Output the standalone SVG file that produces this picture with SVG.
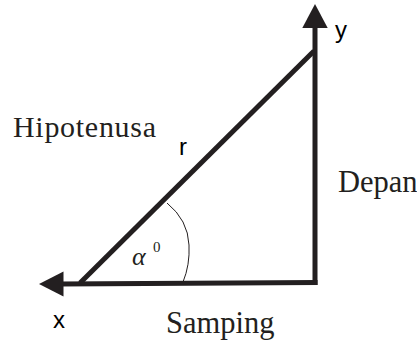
<svg xmlns="http://www.w3.org/2000/svg" width="417" height="347" viewBox="0 0 417 347">
<style>
.ln{stroke:#231f20;stroke-width:5;fill:none;stroke-linecap:butt}
.arc{stroke:#231f20;stroke-width:1;fill:none}
.ah{fill:#231f20}
.serif{font-family:"Liberation Serif","Times New Roman",serif;fill:#231f20}
.sans{font-family:"Liberation Sans",Arial,sans-serif;fill:#000}
</style>
<rect width="417" height="347" fill="#fff"/>
<g id="connectors">
<line class="ln" x1="315" y1="26" x2="315" y2="285"/>
<line class="ln" x1="60" y1="284" x2="317.5" y2="282.5"/>
<line class="ln" x1="80" y1="283" x2="314" y2="51"/>
<path class="arc" d="M167,203 Q188,220 189,245 Q190,265 183,282"/>
<polygon class="ah" points="315,4 327.7,28 302.3,28"/>
<polygon class="ah" points="39,284 63.5,271.5 63.5,296.5"/>
</g>
<g id="label-y"><text class="sans" x="335" y="38" font-size="24">y</text></g>
<g id="label-x"><text class="sans" x="53" y="328" font-size="24">x</text></g>
<g id="label-r"><text class="sans" x="179" y="155" font-size="24">r</text></g>
<g id="label-hipotenusa"><text class="serif" x="13" y="137" font-size="30" textLength="143" lengthAdjust="spacing">Hipotenusa</text></g>
<g id="label-depan"><text class="serif" x="338" y="192" font-size="30.5">Depan</text></g>
<g id="label-samping"><text class="serif" x="166" y="333" font-size="30.5">Samping</text></g>
<g id="label-alpha"><text class="serif" x="132" y="265" font-size="26" font-style="italic">α</text><text class="serif" x="153" y="252" font-size="15">0</text></g>
</svg>
